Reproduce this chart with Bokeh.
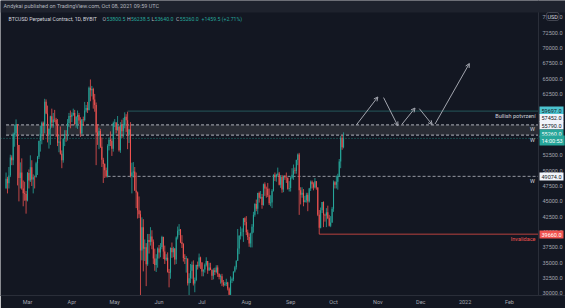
import pandas as pd
from bokeh.plotting import figure
from bokeh.models import (Range1d, FixedTicker, NumeralTickFormatter, Label, LinearAxis,
                          BoxAnnotation, Arrow, OpenHead)
from bokeh.embed import file_html
from bokeh.resources import INLINE

# ---------------- data (BTCUSD perpetual, 1D, Bybit) ----------------
start_date = "2021-02-14"

opens = [
    # Feb 14-28
    47170, 48700, 47950, 49200, 52150, 51680, 55890, 56100, 57540, 54200, 48820, 49700, 47090, 46340, 46190,
    # Mar
    45140, 49630, 48380, 50540, 48560, 48930, 48910, 51210, 52250, 54820, 56010, 57800, 57330, 61240, 59300, 55900,
    56800, 58870, 57860, 58350, 58310, 57520, 54530, 54740, 52770, 51700, 55140, 55970, 55950, 57750, 58920,
    # Apr
    58800, 59100, 59380, 57600, 58760, 59060, 58190, 56050, 58320, 58250, 59790, 60200, 59890, 63500, 63110,
    63310, 61570, 60680, 56220, 55720, 56470, 53910, 51760, 51090, 50050, 49070, 54020, 55030, 54820, 53560,
    # May
    57750, 57830, 56630, 57200, 53330, 57420, 56400, 57360, 58800, 58230, 55860, 56700, 49150, 49720, 49880, 46760,
    46460, 43540, 42910, 37000, 40780, 37300, 37540, 34770, 38700, 38400, 39290, 38440, 35700, 34620, 35680,
    # Jun
    37330, 36690, 37580, 39190, 36830, 35520, 35800, 33550, 33380, 37390, 36700, 37330, 35550, 39100, 40220,
    40410, 38350, 38050, 35790, 35620, 35700, 31680, 32500, 33720, 34660, 31640, 32190, 34650, 34430, 35870,
    # Jul
    35040, 33570, 33900, 34670, 35290, 33750, 34240, 33860, 32880, 33800, 33520, 34240, 33160, 32700, 32820, 31780,
    31420, 31530, 31800, 30820, 29810, 32110, 32310, 33580, 34290, 35350, 37340, 39410, 40000, 40010, 42240,
    # Aug
    41630, 39980, 39200, 38150, 39750, 40870, 42820, 44560, 43800, 46370, 45590, 45700, 44430, 47790, 47100, 47050,
    46000, 44700, 44800, 46720, 49340, 48910, 49320, 49550, 47710, 48960, 46940, 49060, 48900, 48830, 47060,
    # Sep
    47170, 48850, 49330, 50030, 49940, 51750, 52630, 46810, 46090, 46390, 44880, 45200, 46060, 44960, 47090,
    48180, 47780, 47270, 48280, 47260, 42840, 40690, 43570, 44900, 42840, 42720, 43210, 42240, 41030, 41560,
    # Oct 1-8
    43790, 48120, 47710, 48200, 49110, 51510, 55360, 53800.5,
]
highs = [
    49700, 49000, 50600, 52600, 52500, 56200, 57500, 58350, 57540, 54200, 51350, 52000, 48400, 48200, 46700,
    49780, 50200, 52500, 51700, 49400, 49200, 51450, 52400, 54900, 57300, 58000, 58000, 61700, 61600, 60600, 56900,
    58950, 60100, 59400, 59900, 58600, 58400, 55800, 57200, 53300, 55300, 56600, 56600, 58400, 59400, 59800,
    59500, 60100, 59900, 58900, 59800, 59400, 58700, 58400, 58800, 61200, 60700, 61200, 63700, 64850, 63800,
    63500, 62500, 61100, 57500, 57000, 56800, 55400, 52100, 51200, 50500, 54300, 55400, 56400, 55200, 58000,
    58400, 57900, 58900, 57200, 57900, 58300, 58600, 59500, 59200, 59600, 56800, 57900, 51300, 51400, 50600, 49700,
    46600, 45800, 43500, 42400, 42100, 38800, 38200, 39700, 39700, 40800, 40300, 38800, 37300, 36400, 37500,
    37900, 38200, 39400, 39250, 37800, 36400, 36700, 34000, 37500, 38300, 37600, 37400, 39300, 40900, 41300,
    40500, 39500, 38200, 36400, 36100, 35700, 33300, 34800, 35200, 35400, 32600, 34700, 35200, 36500, 36000,
    35100, 33900, 34900, 35900, 35300, 35000, 35000, 33900, 34100, 34200, 34600, 34600, 33300, 33100, 33200, 32200,
    31900, 32400, 31900, 31000, 32800, 32600, 33600, 34500, 35400, 40500, 39500, 40900, 40600, 42300, 42400,
    42600, 40400, 39800, 39900, 41300, 43300, 44700, 45300, 46400, 46600, 46700, 46200, 47900, 48100, 47400, 48000,
    47100, 46000, 47000, 49400, 49700, 49500, 50500, 49800, 49300, 49300, 49200, 49300, 49700, 48900, 48300,
    49000, 50400, 51000, 50500, 51800, 52800, 52900, 47300, 47300, 47000, 45900, 46400, 46400, 47200, 48400,
    48400, 48100, 48800, 48300, 47300, 43600, 44000, 44900, 45000, 43000, 43900, 44300, 42800, 42600, 44100,
    48400, 48300, 49200, 49500, 51900, 55700, 55800, 56238.5,
]
lows = [
    47000, 46300, 47100, 48950, 50900, 50900, 53900, 55500, 47600, 45000, 47100, 46900, 44200, 45100, 43000,
    45000, 47100, 48150, 47500, 46300, 47100, 48900, 49300, 51900, 53100, 54300, 55000, 56100, 59200, 54600, 53600,
    54200, 57000, 57000, 57900, 55500, 54000, 53000, 52600, 50400, 51300, 54000, 54700, 54900, 57100, 56900,
    57900, 58900, 57400, 57000, 56800, 57600, 55500, 55900, 57300, 58000, 59500, 59400, 59800, 61300, 62100,
    60100, 59600, 50900, 54200, 53500, 53700, 50600, 48000, 48800, 48900, 48900, 53300, 54000, 52400, 53100,
    57100, 56100, 56500, 53100, 52900, 55300, 55400, 56900, 56300, 53500, 54500, 48900, 46300, 48900, 46700, 43900,
    42200, 42300, 28700, 35400, 33600, 35300, 31200, 34500, 36500, 37800, 37200, 34800, 33700, 33500, 34200,
    35700, 35900, 37200, 35600, 34800, 35300, 33400, 31000, 32400, 35800, 35900, 34700, 34800, 38800, 39500,
    38200, 37400, 35200, 34800, 33400, 31300, 28800, 31700, 32400, 31300, 30200, 32000, 33900, 34200, 34000,
    32800, 32800, 33400, 34400, 33200, 33700, 33800, 32200, 32300, 33000, 33300, 32700, 32300, 31600, 31200, 31100,
    31200, 31200, 30500, 29300, 29500, 31700, 32000, 33400, 33900, 35300, 36400, 38800, 39300, 38400, 41100,
    39500, 38700, 37600, 37500, 37500, 39900, 42500, 43400, 42900, 44800, 45400, 43800, 44300, 45900, 45600, 45700,
    44400, 44200, 43900, 46600, 48300, 48200, 49100, 47600, 47200, 46400, 46500, 48500, 48000, 46900, 46600,
    46600, 48600, 48500, 49500, 49500, 50900, 42800, 44500, 45600, 44200, 44800, 44800, 43400, 44800, 46700,
    47100, 46800, 47100, 46900, 42600, 39660, 40600, 43100, 40800, 41700, 40800, 42100, 40900, 40800, 41500,
    43300, 47100, 47100, 46900, 49000, 50400, 53400, 53640,
]
closes = [
    48700, 47950, 49200, 52150, 51680, 55890, 56100, 57540, 54200, 48820, 49700, 47090, 46340, 46190, 45140,
    49630, 48380, 50540, 48560, 48930, 48910, 51210, 52250, 54820, 56010, 57800, 57330, 61240, 59300, 55900, 56800,
    58870, 57860, 58350, 58310, 57520, 54530, 54740, 52770, 51700, 55140, 55970, 55950, 57750, 58920, 58800,
    59100, 59380, 57600, 58760, 59060, 58190, 56050, 58320, 58250, 59790, 60200, 59890, 63500, 63110, 63310,
    61570, 60680, 56220, 55720, 56470, 53910, 51760, 51090, 50050, 49070, 54020, 55030, 54820, 53560, 57750,
    57830, 56630, 57200, 53330, 57420, 56400, 57360, 58800, 58230, 55860, 56700, 49150, 49720, 49880, 46760, 46460,
    43540, 42910, 37000, 40780, 37300, 37540, 34770, 38700, 38400, 39290, 38440, 35700, 34620, 35680, 37330,
    36690, 37580, 39190, 36830, 35520, 35800, 33550, 33380, 37390, 36700, 37330, 35550, 39100, 40220, 40410,
    38350, 38050, 35790, 35620, 35700, 31680, 32500, 33720, 34660, 31640, 32190, 34650, 34430, 35870, 35040,
    33570, 33900, 34670, 35290, 33750, 34240, 33860, 32880, 33800, 33520, 34240, 33160, 32700, 32820, 31780, 31420,
    31530, 31800, 30820, 29810, 32110, 32310, 33580, 34290, 35350, 37340, 39410, 40000, 40010, 42240, 41630,
    39980, 39200, 38150, 39750, 40870, 42820, 44560, 43800, 46370, 45590, 45700, 44430, 47790, 47100, 47050, 46000,
    44700, 44800, 46720, 49340, 48910, 49320, 49550, 47710, 48960, 46940, 49060, 48900, 48830, 47060, 47170,
    48850, 49330, 50030, 49940, 51750, 52630, 46810, 46090, 46390, 44880, 45200, 46060, 44960, 47090, 48180,
    47780, 47270, 48280, 47260, 42840, 40690, 43570, 44900, 42840, 42720, 43210, 42240, 41030, 41560, 43790,
    48120, 47710, 48200, 49110, 51510, 55360, 53800, 55260,
]

# x axis: month starts and their labels
month_starts = ["2021-03-01", "2021-04-01", "2021-05-01", "2021-06-01", "2021-07-01", "2021-08-01",
                "2021-09-01", "2021-10-01", "2021-11-01", "2021-12-01", "2022-01-01", "2022-02-01"]
month_labels = ["Mar", "Apr", "May", "Jun", "Jul", "Aug", "Sep", "Oct", "Nov", "Dec", "2022", "Feb"]

# y axis ticks
y_ticks = [30000, 32500, 35000, 37500, 40000, 42500, 45000, 47500, 50000, 52500,
           55000, 57500, 60000, 62500, 65000, 67500, 70000, 72500, 75000]

# drawn levels
zone_top, zone_bottom, zone_start = 57452.0, 55790.0, "2021-02-14"
resistance, resistance_start = 59697.0, "2021-05-10"
support, support_start = 49074.0, "2021-04-26"
invalidation, invalidation_start = 39660.0, "2021-09-21"
last_price = 55260.0
countdown = "14:00:53"

# projected path arrows (start date, start price, end date, end price)
arrow_x0 = ["2021-10-17", "2021-11-05", "2021-11-18", "2021-11-30", "2021-12-11"]
arrow_y0 = [57452, 61900, 57600, 60100, 57600]
arrow_x1 = ["2021-11-01", "2021-11-15", "2021-11-27", "2021-12-09", "2022-01-04"]
arrow_y1 = [62000, 57300, 60200, 57500, 67450]

# ---------------- geometry ----------------
ref = pd.Timestamp("2021-03-01")
def day(s):
    return float((pd.Timestamp(s) - ref).days)

W, H = 565, 308
X0 = -18.88                      # left edge of the chart, days from 2021-03-01
DPP = (357.34 - X0) / 538.0      # days per pixel
Y0, Y1 = 29673.0, 77711.0
FH = 295.0
def dx(px):
    return X0 + px * DPP
def dy(py):
    return Y1 - py / FH * (Y1 - Y0)
XR = dx(538)                     # price-scale separator

BG = "#131722"
UP, DOWN = "#26a69a", "#ef5350"
FONT = "Roboto"
AX = "#a3a6af"

dates = pd.date_range(start_date, periods=len(closes), freq="D")
xs = [float((d - ref).days) for d in dates]

p = figure(width=W, height=H, x_range=Range1d(X0, dx(W)), y_range=Range1d(Y0, Y1),
           output_backend="svg", toolbar_location=None, y_axis_location=None,
           min_border_left=0, min_border_right=0, min_border_top=0, min_border_bottom=13,
           background_fill_color=BG, border_fill_color=BG, outline_line_color=None)
p.grid.visible = False

# header band
p.add_layout(BoxAnnotation(bottom=dy(12), fill_color="#1e222d", fill_alpha=1.0, line_color=None))

# zone
p.quad(left=day(zone_start), right=XR, bottom=zone_bottom, top=zone_top,
       fill_color="#2a2d35", line_color=None)
p.segment(x0=[day(zone_start)] * 2, x1=[XR] * 2, y0=[zone_top, zone_bottom], y1=[zone_top, zone_bottom],
          line_color="#b2b5be", line_width=1, line_dash="3 2")
p.segment(x0=[day(resistance_start)], x1=[XR], y0=[resistance], y1=[resistance],
          line_color="#24585a", line_width=1)
p.segment(x0=[day(support_start)], x1=[XR], y0=[support], y1=[support],
          line_color="#9598a1", line_width=1, line_dash="3 2")
p.segment(x0=[day(invalidation_start)], x1=[XR], y0=[invalidation], y1=[invalidation],
          line_color="#b8423f", line_width=1)
p.segment(x0=[X0], x1=[XR], y0=[last_price], y1=[last_price],
          line_color=UP, line_width=1, line_dash="1 2", line_alpha=0.7)

# candles
colors = [UP if c >= o else DOWN for o, c in zip(opens, closes)]
p.segment(x0=xs, x1=xs, y0=lows, y1=highs, line_color=colors, line_width=0.8)
p.vbar(x=xs, width=0.75, top=[max(o, c) for o, c in zip(opens, closes)],
       bottom=[min(o, c) for o, c in zip(opens, closes)], fill_color=colors, line_color=None)

# arrows
for a, b, c, d in zip(arrow_x0, arrow_y0, arrow_x1, arrow_y1):
    p.add_layout(Arrow(end=OpenHead(size=4, line_color="#a3a6af", line_width=1),
                       x_start=day(a), y_start=b, x_end=day(c), y_end=d,
                       line_color="#a3a6af", line_width=1))

# axes
yaxis = LinearAxis(fixed_location=XR, ticker=FixedTicker(ticks=y_ticks),
                   formatter=NumeralTickFormatter(format="0.0"))
p.add_layout(yaxis, "right")
p.xaxis.ticker = FixedTicker(ticks=[day(m) for m in month_starts])
p.xaxis.major_label_overrides = {day(m): t for m, t in zip(month_starts, month_labels)}
for ax in (p.xaxis[0], yaxis):
    ax.axis_line_color = "#2a2e39"
    ax.major_tick_line_color = None
    ax.minor_tick_line_color = None
    ax.major_label_text_color = AX
    ax.major_label_text_font = FONT
    ax.major_label_text_font_size = "5.5px"
    ax.major_tick_out = 0
    ax.major_tick_in = 0
p.xaxis.major_label_standoff = 3
yaxis.major_label_standoff = 4

def lab(px, py, text, color, size="5.5px", align="left", **kw):
    p.add_layout(Label(x=dx(px), y=dy(py), text=text, text_color=color, text_font=FONT,
                       text_font_size=size, text_align=align, text_baseline="middle", **kw))

# header texts
lab(3, 5.5, "Andykai published on TradingView.com, Oct 08, 2021 09:59 UTC", "#b2b5be")
lab(8, 18.5, "BTCUSD Perpetual Contract, 1D, BYBIT", "#d1d4dc", size="5.2px")
for px, t, c in [(102, "O", "#b2b5be"), (106, "53800.5", UP), (126.5, "H", "#b2b5be"), (130.5, "56238.5", UP),
                 (151, "L", "#b2b5be"), (154, "53640.0", UP), (175.5, "C", "#b2b5be"), (179.3, "55260.0", UP),
                 (201, "+1459.5 (+2.71%)", UP)]:
    lab(px, 18.5, t, c, size="5.2px")

# chart annotations
lab(535, 115, "Bullish potvrzení", "#d1d4dc", align="right")
lab(532, 128.5, "W", "#d1d4dc", align="center")
lab(532, 139.5, "W", "#d1d4dc", align="center")
lab(532, 180.5, "W", "#d1d4dc", align="center")
lab(535, 238.5, "Invalidace", "#ef5350", align="right")

# price scale labels
def price_box(py, text, bg, fg):
    lab(539, py, text, fg, background_fill_color=bg, background_fill_alpha=1.0, padding=2)

price_box(110, f"{resistance:.1f}", "#4cc3cf", "#131722")
price_box(117.5, f"{zone_top:.1f}", "#f0f3fa", "#131722")
price_box(125, f"{zone_bottom:.1f}", "#f0f3fa", "#131722")
price_box(133, f"{last_price:.1f}", UP, "#ffffff")
price_box(140, countdown, UP, "#ffffff")
price_box(176, f"{support:.1f}", "#f0f3fa", "#131722")
price_box(234, f"{invalidation:.1f}", DOWN, "#ffffff")
lab(546, 16, "USD", "#d1d4dc", background_fill_color=BG, background_fill_alpha=1.0,
    border_line_color="#434651", border_line_width=1, padding=1, border_radius=2)

open("out.html", "w").write(file_html(p, INLINE))
